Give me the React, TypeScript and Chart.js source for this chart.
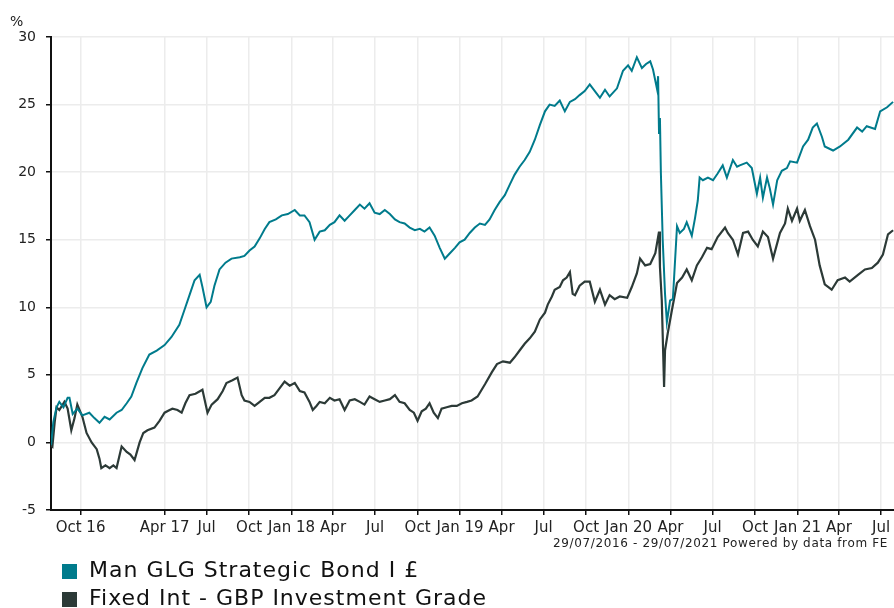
import { useEffect, useRef } from 'react';
import { Chart, registerables } from 'chart.js';

Chart.register(...registerables);

// Days since 29/07/2016 for quarter ticks
const tickDays = [64, 246, 337, 429, 521, 611, 702, 794, 886, 976, 1067, 1159, 1251, 1342, 1433, 1525, 1617, 1707, 1798];
const tickLabels = ['Oct 16', 'Apr 17', 'Jul', 'Oct', 'Jan 18', 'Apr', 'Jul', 'Oct', 'Jan 19', 'Apr', 'Jul', 'Oct', 'Jan 20', 'Apr', 'Jul', 'Oct', 'Jan 21', 'Apr', 'Jul'];
const yTicks = [-5, 0, 5, 10, 15, 20, 25, 30];
const seriesNames = ['Man GLG Strategic Bond I £', 'Fixed Int - GBP Investment Grade'];
const seriesColors = ['#007b8c', '#2c3a37'];

// Man GLG Strategic Bond I £ (cumulative %)
const manDays = [0, 5, 12, 18, 27, 36, 40, 47, 57, 68, 83, 94, 105, 116, 127, 142, 153, 164, 174, 185, 198, 213, 229, 246, 261, 278, 289, 300, 311, 322, 328, 337, 346, 354, 365, 378, 391, 409, 419, 430, 441, 452, 463, 473, 487, 500, 513, 528, 539, 549, 560, 571, 582, 593, 604, 614, 625, 636, 647, 658, 669, 679, 690, 701, 712, 723, 734, 745, 755, 766, 777, 788, 799, 809, 820, 831, 842, 853, 864, 875, 885, 896, 907, 918, 929, 940, 950, 961, 972, 983, 994, 1004, 1015, 1026, 1037, 1048, 1059, 1070, 1080, 1091, 1102, 1113, 1124, 1135, 1145, 1156, 1167, 1178, 1189, 1200, 1210, 1226, 1239, 1250, 1258, 1269, 1280, 1289, 1298, 1304, 1313, 1315, 1317, 1319, 1321, 1325, 1330, 1334, 1341, 1347, 1351, 1356, 1362, 1371, 1377, 1388, 1395, 1401, 1405, 1412, 1423, 1434, 1444, 1455, 1464, 1477, 1486, 1492, 1507, 1518, 1529, 1536, 1542, 1551, 1557, 1564, 1573, 1583, 1594, 1601, 1616, 1629, 1640, 1650, 1659, 1670, 1676, 1694, 1709, 1727, 1746, 1757, 1767, 1785, 1796, 1811, 1824];
const manValues = [-0.2, 1.5, 2.6, 3.0, 2.6, 3.3, 3.3, 2.1, 2.5, 2.0, 2.2, 1.8, 1.45, 1.9, 1.7, 2.2, 2.4, 2.9, 3.4, 4.4, 5.5, 6.5, 6.8, 7.2, 7.8, 8.7, 9.8, 10.9, 12.0, 12.4, 11.5, 10.0, 10.4, 11.6, 12.8, 13.3, 13.6, 13.7, 13.8, 14.2, 14.5, 15.1, 15.8, 16.3, 16.5, 16.8, 16.9, 17.2, 16.8, 16.8, 16.3, 15.0, 15.6, 15.7, 16.1, 16.3, 16.8, 16.4, 16.8, 17.2, 17.6, 17.3, 17.7, 17.0, 16.9, 17.2, 16.9, 16.5, 16.3, 16.2, 15.9, 15.7, 15.8, 15.6, 15.9, 15.3, 14.4, 13.6, 14.0, 14.4, 14.8, 15.0, 15.5, 15.9, 16.2, 16.1, 16.5, 17.2, 17.8, 18.3, 19.1, 19.8, 20.4, 20.9, 21.5, 22.4, 23.5, 24.5, 25.0, 24.9, 25.3, 24.5, 25.2, 25.4, 25.7, 26.0, 26.5, 26.0, 25.5, 26.1, 25.6, 26.2, 27.5, 27.9, 27.5, 28.5, 27.7, 28.0, 28.2, 27.6, 26.1, 27.1, 22.9, 24.0, 20.0, 15.0, 11.0, 8.9, 10.5, 10.6, 13.0, 16.0, 15.5, 15.8, 16.3, 15.3, 16.6, 17.9, 19.6, 19.4, 19.6, 19.4, 19.9, 20.5, 19.6, 20.9, 20.4, 20.5, 20.7, 20.3, 18.4, 19.6, 18.1, 19.6, 18.8, 17.6, 19.4, 20.1, 20.3, 20.8, 20.7, 21.9, 22.4, 23.3, 23.6, 22.6, 21.9, 21.6, 21.9, 22.4, 23.3, 23.0, 23.4, 23.2, 24.5, 24.8, 25.2];

// Fixed Int - GBP Investment Grade (cumulative %)
const fixedDays = [0, 3, 8, 12, 18, 29, 36, 44, 51, 57, 68, 77, 88, 99, 105, 109, 118, 127, 135, 142, 153, 164, 172, 181, 192, 200, 209, 224, 235, 246, 257, 263, 274, 283, 291, 300, 313, 328, 339, 348, 361, 372, 380, 393, 404, 413, 419, 430, 441, 452, 463, 473, 484, 495, 506, 517, 528, 539, 549, 560, 567, 575, 582, 593, 604, 614, 625, 636, 647, 658, 669, 679, 690, 701, 712, 723, 734, 745, 755, 766, 777, 786, 794, 803, 812, 820, 829, 838, 846, 857, 868, 879, 890, 901, 911, 924, 940, 955, 966, 979, 994, 1004, 1015, 1026, 1037, 1048, 1059, 1070, 1076, 1085, 1091, 1102, 1109, 1117, 1124, 1130, 1135, 1145, 1156, 1167, 1178, 1189, 1200, 1210, 1221, 1232, 1248, 1258, 1269, 1276, 1287, 1298, 1309, 1317, 1319, 1323, 1328, 1330, 1336, 1345, 1356, 1367, 1377, 1388, 1399, 1410, 1421, 1431, 1444, 1460, 1466, 1477, 1488, 1499, 1510, 1520, 1531, 1542, 1553, 1564, 1579, 1590, 1596, 1605, 1616, 1622, 1633, 1644, 1655, 1665, 1676, 1691, 1704, 1720, 1730, 1748, 1763, 1778, 1791, 1802, 1813, 1824];
const fixedValues = [-0.2, -0.3, 1.5, 2.6, 2.4, 3.0, 2.5, 0.9, 1.8, 2.8, 1.9, 0.7, 0.0, -0.5, -1.2, -1.9, -1.7, -1.9, -1.7, -1.9, -0.3, -0.7, -0.9, -1.3, 0.0, 0.7, 0.9, 1.1, 1.6, 2.2, 2.4, 2.5, 2.4, 2.2, 2.9, 3.5, 3.6, 3.9, 2.2, 2.8, 3.2, 3.8, 4.4, 4.6, 4.8, 3.5, 3.1, 3.0, 2.7, 3.0, 3.3, 3.3, 3.5, 4.0, 4.5, 4.2, 4.4, 3.8, 3.7, 3.0, 2.4, 2.7, 3.0, 2.9, 3.3, 3.1, 3.2, 2.4, 3.1, 3.2, 3.0, 2.8, 3.4, 3.2, 3.0, 3.1, 3.2, 3.5, 3.0, 2.9, 2.4, 2.2, 1.6, 2.3, 2.5, 2.9, 2.2, 1.8, 2.5, 2.6, 2.7, 2.7, 2.9, 3.0, 3.1, 3.4, 4.3, 5.2, 5.8, 6.0, 5.9, 6.3, 6.8, 7.3, 7.7, 8.2, 9.1, 9.6, 10.2, 10.8, 11.3, 11.5, 12.0, 12.2, 12.6, 11.0, 10.9, 11.6, 11.9, 11.9, 10.4, 11.3, 10.2, 10.9, 10.6, 10.8, 10.7, 11.5, 12.5, 13.6, 13.1, 13.2, 14.0, 15.6, 13.0, 10.5, 4.1, 6.8, 8.1, 9.8, 11.8, 12.2, 12.8, 12.0, 13.1, 13.7, 14.4, 14.3, 15.2, 15.9, 15.5, 15.0, 13.9, 15.5, 15.6, 15.0, 14.5, 15.6, 15.2, 13.6, 15.5, 16.2, 17.3, 16.4, 17.3, 16.4, 17.2, 16.0, 15.0, 13.1, 11.7, 11.3, 12.0, 12.2, 11.9, 12.4, 12.8, 12.9, 13.3, 13.9, 15.4, 15.7];

const totalDays = 1826;
const FONT = '"DejaVu Sans", Verdana, sans-serif';

export default function App() {
  const ref = useRef<HTMLCanvasElement>(null);

  useEffect(() => {
    const canvas = ref.current;
    if (!canvas) return;
    const chart = new Chart(canvas, {
      type: 'line',
      data: {
        datasets: [
          {
            label: seriesNames[0],
            data: manDays.map((d, i) => ({ x: d, y: manValues[i] })),
            borderColor: seriesColors[0],
            backgroundColor: seriesColors[0],
            borderWidth: 2,
            pointRadius: 0,
            tension: 0,
          },
          {
            label: seriesNames[1],
            data: fixedDays.map((d, i) => ({ x: d, y: fixedValues[i] })),
            borderColor: seriesColors[1],
            backgroundColor: seriesColors[1],
            borderWidth: 2.2,
            pointRadius: 0,
            tension: 0,
          },
        ],
      },
      options: {
        animation: false,
        responsive: false,
        devicePixelRatio: 1,
        layout: { padding: { top: 37, left: 0, right: 0, bottom: 20 } },
        plugins: { legend: { display: false }, tooltip: { enabled: false }, title: { display: false } },
        scales: {
          x: {
            type: 'linear',
            min: 0,
            max: totalDays,
            afterBuildTicks: (s: any) => {
              s.ticks = tickDays.map((v) => ({ value: v }));
            },
            afterFit: (s: any) => {
              s.height = 30;
              s.paddingLeft = 0;
              s.paddingRight = 0;
            },
            ticks: {
              autoSkip: false,
              maxRotation: 0,
              minRotation: 0,
              padding: 4,
              color: '#222',
              font: { family: FONT, size: 15 },
              callback: (_v: any, i: number) => tickLabels[i],
            },
            grid: { color: '#ececec', lineWidth: 1.5, tickColor: '#111', tickLength: 5, tickWidth: 1.5 },
            border: { color: '#111', width: 2 },
          },
          y: {
            type: 'linear',
            min: -5,
            max: 30,
            afterBuildTicks: (s: any) => {
              s.ticks = yTicks.map((v) => ({ value: v }));
            },
            afterFit: (s: any) => {
              s.width = 51;
              s.paddingTop = 0;
              s.paddingBottom = 0;
            },
            ticks: {
              padding: 10,
              color: '#222',
              font: { family: FONT, size: 14 },
              callback: (v: any) => String(v),
            },
            grid: { color: '#ececec', lineWidth: 1.5, tickColor: '#111', tickLength: 5, tickWidth: 1.5 },
            border: { color: '#111', width: 2 },
          },
        },
      },
    });
    return () => chart.destroy();
  }, []);

  return (
    <div
      style={{
        position: 'absolute',
        left: 0,
        top: 0,
        width: 894,
        height: 608,
        overflow: 'hidden',
        background: '#fff',
        fontFamily: FONT,
        color: '#222',
      }}
    >
      <canvas ref={ref} width={894} height={560} style={{ position: 'absolute', left: 0, top: 0 }} />
      <div style={{ position: 'absolute', left: 10, top: 14, fontSize: 14, lineHeight: '14px' }}>%</div>
      <div
        style={{
          position: 'absolute',
          right: 6,
          top: 537,
          fontSize: 12,
          lineHeight: '12px',
          letterSpacing: '0.65px',
          whiteSpace: 'nowrap',
        }}
      >
        29/07/2016 - 29/07/2021 Powered by data from FE
      </div>
      {seriesNames.map((name, i) => (
        <div key={name}>
          <div
            style={{
              position: 'absolute',
              left: 62,
              top: 564 + i * 28,
              width: 15,
              height: 15,
              background: seriesColors[i],
            }}
          />
          <div
            style={{
              position: 'absolute',
              left: 89,
              top: 559 + i * 28,
              fontSize: 22,
              lineHeight: '22px',
              letterSpacing: '1px',
              whiteSpace: 'nowrap',
              color: '#111',
            }}
          >
            {name}
          </div>
        </div>
      ))}
    </div>
  );
}
